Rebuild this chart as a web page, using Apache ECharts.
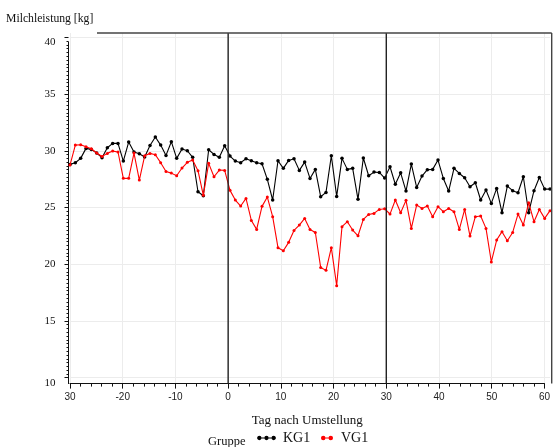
<!DOCTYPE html>
<html>
<head>
<meta charset="utf-8">
<script src="https://cdn.jsdelivr.net/npm/echarts@6/dist/echarts.min.js"></script>
<style>
  html, body { margin: 0; padding: 0; background: #fff; }
  #main { width: 553px; height: 447px; }
</style>
</head>
<body>
<div id="main"></div>
<script>
// Tage relativ zur Umstellung
const days = [
  -30, -29, -28, -27, -26, -25, -24, -23, -22, -21,
  -20, -19, -18, -17, -16, -15, -14, -13, -12, -11,
  -10, -9, -8, -7, -6, -5, -4, -3, -2, -1,
  0, 1, 2, 3, 4, 5, 6, 7, 8, 9,
  10, 11, 12, 13, 14, 15, 16, 17, 18, 19,
  20, 21, 22, 23, 24, 25, 26, 27, 28, 29,
  30, 31, 32, 33, 34, 35, 36, 37, 38, 39,
  40, 41, 42, 43, 44, 45, 46, 47, 48, 49,
  50, 51, 52, 53, 54, 55, 56, 57, 58, 59, 60
];

// Mittlere Milchleistung je Tag [kg], Kontrollgruppe
const kg1 = [
  28.80, 28.94, 29.33, 30.21, 30.12, 29.80, 29.39, 30.27, 30.65, 30.65,
  29.09, 30.77, 29.89, 29.74, 29.45, 30.47, 31.21, 30.50, 29.59, 30.80,
  29.33, 30.15, 30.00, 29.42, 26.39, 26.04, 30.09, 29.68, 29.42, 30.44,
  29.53, 29.09, 28.95, 29.30, 29.12, 28.95, 28.86, 27.48, 25.66, 29.12,
  28.45, 29.15, 29.30, 28.27, 29.00, 27.56, 28.36, 25.95, 26.33, 29.56,
  25.98, 29.33, 28.36, 28.45, 25.72, 29.36, 27.80, 28.12, 28.09, 27.59,
  28.59, 27.04, 28.06, 26.45, 28.83, 26.77, 27.77, 28.33, 28.36, 29.18,
  27.56, 26.45, 28.45, 28.00, 27.62, 26.83, 27.18, 25.66, 26.54, 25.36,
  26.68, 24.54, 26.89, 26.48, 26.30, 27.71, 24.54, 26.48, 27.65, 26.62, 26.62
];

// Mittlere Milchleistung je Tag [kg], Versuchsgruppe
const vg1 = [
  28.74, 30.50, 30.53, 30.36, 30.18, 29.80, 29.50, 29.77, 29.97, 29.89,
  27.57, 27.57, 29.80, 27.42, 29.56, 29.77, 29.65, 28.95, 28.18, 28.03,
  27.80, 28.48, 28.98, 29.18, 28.24, 26.07, 28.89, 27.71, 28.30, 28.27,
  26.51, 25.66, 25.13, 25.80, 23.86, 23.07, 25.10, 25.92, 24.19, 21.46,
  21.19, 21.93, 22.98, 23.45, 24.04, 23.07, 22.80, 19.72, 19.46, 21.46,
  18.11, 23.31, 23.75, 23.01, 22.51, 23.95, 24.39, 24.48, 24.83, 24.89,
  24.42, 25.66, 24.54, 25.63, 23.16, 25.22, 24.92, 25.13, 24.19, 25.07,
  24.63, 24.92, 24.63, 23.07, 24.83, 22.48, 24.19, 24.25, 23.16, 20.20,
  22.13, 22.87, 22.07, 22.80, 24.42, 23.45, 25.42, 23.75, 24.83, 24.04, 24.72
];

// Beschriftung der x-Achse (-30 ... 60)
const xTickValues = [-30, -20, -10, 0, 10, 20, 30, 40, 50, 60];
const xTickLabels = ['30', '-20', '-10', '0', '10', '20', '30', '40', '50', '60'];

// Beschriftung der y-Achse: Endwerte an der Achsenlinie, Zwischenwerte an den Gitterlinien
const yEndLabels = [10, 40];
const yInnerLabels = [15, 20, 25, 30, 35];

// Phasengrenzen (senkrechte Linien)
const phaseDays = [0, 30];

const seriesNames = ['KG1', 'VG1'];

const SERIF = "'Liberation Serif', 'Times New Roman', serif";
const SANS = "'Liberation Sans', Arial, sans-serif";

const toPairs = (vals) => days.map((d, i) => [d, vals[i]]);

// Legendensymbole: Linie mit Punkten
const dot = (cx) => `M${cx - 4.5} 5a4.5 4.5 0 1 1 9 0a4.5 4.5 0 1 1 -9 0Z`;
const iconKG = 'path://M0 3.8H40V6.2H0Z ' + dot(5) + ' ' + dot(20) + ' ' + dot(35);
const iconVG = 'path://M0 3.8H24V6.2H0Z ' + dot(4.5) + ' ' + dot(19.5);

const chart = echarts.init(document.getElementById('main'), null, { renderer: 'canvas' });

const PLOT_LEFT = 70, PLOT_RIGHT = 3;

const option = {
  animation: false,
  backgroundColor: '#fff',
  title: {
    text: 'Milchleistung [kg]',
    left: 6,
    top: 12.5,
    padding: 0,
    textStyle: { fontFamily: SERIF, fontSize: 11.7, fontWeight: 'normal', color: '#111' }
  },
  legend: [
    {
      data: [seriesNames[0]],
      icon: iconKG,
      left: 257,
      top: 431,
      padding: 0,
      itemWidth: 19,
      itemHeight: 4.5,
      selectedMode: false,
      textStyle: { fontFamily: SERIF, fontSize: 14, color: '#111', padding: [0, 0, 0, 2] }
    },
    {
      data: [seriesNames[1]],
      icon: iconVG,
      left: 321,
      top: 431,
      padding: 0,
      itemWidth: 12,
      itemHeight: 4.5,
      selectedMode: false,
      textStyle: { fontFamily: SERIF, fontSize: 14, color: '#111', padding: [0, 0, 0, 3] }
    }
  ],
  grid: [
    // Datenbereich
    { left: PLOT_LEFT, right: PLOT_RIGHT, top: 37.3, bottom: 69.3 },
    // Rahmen mit x-Achse
    { left: PLOT_LEFT, right: PLOT_RIGHT, top: 33, bottom: 63.4 },
    // y-Achsenlinie
    { left: 68.5, right: PLOT_RIGHT, top: 42, bottom: 63.4 }
  ],
  xAxis: [
    {
      gridIndex: 0, type: 'value', min: -30, max: 60, interval: 10,
      axisLine: { show: false, onZero: false }, axisTick: { show: false }, axisLabel: { show: false },
      splitLine: { show: false }
    },
    {
      gridIndex: 1, type: 'value', min: -30, max: 60, interval: 10,
      name: 'Tag nach Umstellung',
      nameLocation: 'middle',
      nameGap: 30,
      nameTextStyle: { fontFamily: SERIF, fontSize: 13, color: '#111' },
      axisLine: { show: true, onZero: false, lineStyle: { color: '#111', width: 1 } },
      axisTick: { show: true, length: 5, lineStyle: { color: '#111' } },
      minorTick: { show: true, splitNumber: 5, length: 3, lineStyle: { color: '#111' } },
      axisLabel: {
        fontFamily: SANS, fontSize: 10, color: '#222', margin: 9,
        formatter: (v) => {
          const k = xTickValues.indexOf(v);
          return k >= 0 ? xTickLabels[k] : '';
        }
      },
      splitLine: { show: true, lineStyle: { color: '#ececec', width: 1 } }
    },
    {
      gridIndex: 2, type: 'value', min: 0, max: 1, show: false
    }
  ],
  yAxis: [
    {
      gridIndex: 0, type: 'value', min: 10, max: 40, interval: 5,
      offset: 1.5,
      axisLine: { show: false, onZero: false },
      axisTick: { show: true, length: 4, lineStyle: { color: '#111' } },
      minorTick: { show: true, splitNumber: 15, length: 2, lineStyle: { color: '#111' } },
      axisLabel: {
        fontFamily: SERIF, fontSize: 11, color: '#111', margin: 13,
        formatter: (v) => (yInnerLabels.indexOf(v) >= 0 ? String(v) : '')
      },
      splitLine: { show: true, lineStyle: { color: '#ececec', width: 1 } }
    },
    {
      gridIndex: 1, type: 'value', min: 0, max: 1, show: false
    },
    {
      gridIndex: 2, type: 'value', min: 10, max: 40, interval: 5,
      axisLine: { show: true, onZero: false, lineStyle: { color: '#111', width: 1 } },
      axisTick: { show: false },
      axisLabel: {
        fontFamily: SERIF, fontSize: 11, color: '#111', margin: 13,
        formatter: (v) => (yEndLabels.indexOf(v) >= 0 ? String(v) : '')
      },
      splitLine: { show: false }
    }
  ],
  series: [
    {
      name: seriesNames[0],
      type: 'line',
      xAxisIndex: 0, yAxisIndex: 0,
      data: toPairs(kg1),
      symbol: 'circle',
      symbolSize: 3.5,
      color: '#000',
      lineStyle: { color: '#000', width: 1.1 },
      itemStyle: { color: '#000' },
      z: 3
    },
    {
      name: seriesNames[1],
      type: 'line',
      xAxisIndex: 0, yAxisIndex: 0,
      data: toPairs(vg1),
      symbol: 'circle',
      symbolSize: 3,
      color: '#ff0000',
      lineStyle: { color: '#ff0000', width: 1.1 },
      itemStyle: { color: '#ff0000' },
      z: 4
    }
  ]
};

chart.setOption(option);

// Rahmen, Phasengrenzen und Legendentitel
const yTop = chart.convertToPixel({ yAxisIndex: 1 }, 1);
const yBottom = chart.convertToPixel({ yAxisIndex: 1 }, 0);
const xRight = 551.7;

const graphics = phaseDays.map((d) => {
  const x = chart.convertToPixel({ xAxisIndex: 1 }, d);
  return {
    type: 'line', silent: true, z: 10,
    shape: { x1: x, y1: yTop, x2: x, y2: yBottom },
    style: { stroke: '#222', lineWidth: 1.4 }
  };
});

graphics.push(
  {
    type: 'line', silent: true, z: 10,
    shape: { x1: 97, y1: yTop, x2: xRight, y2: yTop },
    style: { stroke: '#444', lineWidth: 1.4 }
  },
  {
    type: 'line', silent: true, z: 10,
    shape: { x1: xRight, y1: yTop, x2: xRight, y2: yBottom },
    style: { stroke: '#444', lineWidth: 1.4 }
  },
  {
    type: 'text', silent: true, z: 10,
    left: 208, top: 435.5,
    style: { text: 'Gruppe', font: "12.5px 'Liberation Serif', serif", fill: '#111' }
  }
);

chart.setOption({ graphic: graphics });
</script>
</body>
</html>
